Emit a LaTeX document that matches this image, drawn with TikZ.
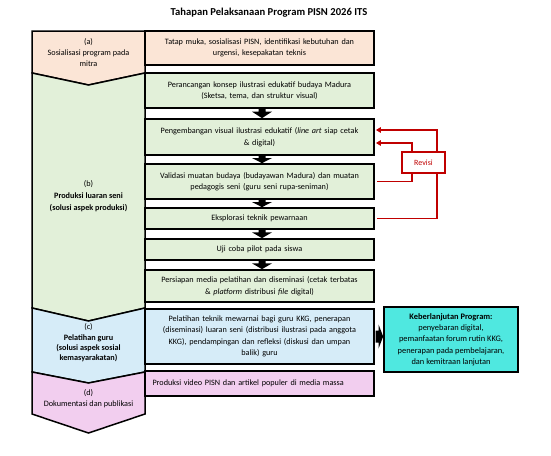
\documentclass[tikz,border=0pt]{standalone}
\usepackage{fontspec}
\setmainfont{Carlito}
\usetikzlibrary{arrows.meta,calc}
\definecolor{cpeach}{HTML}{FBE5D6}
\definecolor{cgreen}{HTML}{E2F0D9}
\definecolor{cblue}{HTML}{D6ECF8}
\definecolor{cpink}{HTML}{F2CEEF}
\definecolor{ccyan}{HTML}{4FE8E0}
\definecolor{cred}{HTML}{C00000}
\newcommand\blockdown[2]{%
  \fill[black] let \p1=($(#1.south)+(2.5,0)$), \p2=($(#2.north)+(2.5,0)$) in
    ({\x1-3.5pt},\y1) -- ({\x1+3.5pt},\y1) -- ({\x1+3.5pt},{\y1+0.3*(\y2-\y1)})
    -- ({\x1+10pt},{\y1+0.3*(\y2-\y1)}) -- (\x1,\y2)
    -- ({\x1-10pt},{\y1+0.3*(\y2-\y1)}) -- ({\x1-3.5pt},{\y1+0.3*(\y2-\y1)}) -- cycle;}
\begin{document}
\begin{tikzpicture}[x=1pt,y=-1pt,
  rbox/.style={draw=black, line width=1.7pt, minimum width=229pt, align=center,
    inner sep=0pt, text width=224pt, font=\fontsize{8.2}{11.5}\selectfont},
  lcol/.style={draw=black, line width=1.5pt, line join=miter},
  ltext/.style={align=center, inner sep=0pt, font=\fontsize{8.2}{10.8}\selectfont},
  redline/.style={draw=cred, line width=1.4pt},
  redarr/.style={-{Triangle[length=5pt,width=5.5pt]}}]
\useasboundingbox (0,0) rectangle (551,455);
\fill[white] (0,0) rectangle (551,455);

% title
\node[font=\bfseries\fontsize{10.6}{12}\selectfont] (title) at (269,13) {Tahapan Pelaksanaan Program PISN 2026 ITS};

% left column chevrons
\draw[lcol, fill=cpeach] (32,31) -- (145,31) -- (145,73) -- (88.5,85) -- (32,73) -- cycle;
\draw[lcol, fill=cgreen] (32,73) -- (88.5,85) -- (145,73) -- (145,308) -- (88.5,321) -- (32,308) -- cycle;
\draw[lcol, fill=cblue] (32,308) -- (88.5,321) -- (145,308) -- (145,372) -- (88.5,383) -- (32,372) -- cycle;
\draw[lcol, fill=cpink] (32,372) -- (88.5,383) -- (145,372) -- (145,414) -- (88.5,433) -- (32,414) -- cycle;

\node[ltext] (la) at (88.5,52.5) {(a)\\Sosialisasi program pada\\mitra};
\node[ltext, font=\fontsize{8.2}{12}\selectfont] (lb) at (88.5,196) {(b)\\\textbf{Produksi luaran seni}\\\textbf{(solusi aspek produksi)}};
\node[ltext, font=\fontsize{8.2}{10.3}\selectfont] (lc) at (88.5,343) {(c)\\\textbf{Pelatihan guru}\\\textbf{(solusi aspek sosial}\\\textbf{kemasyarakatan)}};
\node[ltext, font=\fontsize{8.2}{11.5}\selectfont] (ld) at (88.5,398.5) {(d)\\Dokumentasi dan publikasi};

% right boxes
\node[rbox, fill=cpeach, minimum height=34pt] (tatap) at (259.5,48) {Tatap muka, sosialisasi PISN, identifikasi kebutuhan dan\\urgensi, kesepakatan teknis};
\node[rbox, fill=cgreen, minimum height=35pt] (peran) at (259.5,90.5) {Perancangan konsep ilustrasi edukatif budaya Madura\\(Sketsa, tema, dan struktur visual)};
\node[rbox, fill=cgreen, minimum height=36pt] (pengem) at (259.5,137) {Pengembangan visual ilustrasi edukatif (\textit{line art} siap cetak\\\& digital)};
\node[rbox, fill=cgreen, minimum height=35pt] (valid) at (259.5,181.5) {Validasi muatan budaya (budayawan Madura) dan muatan\\pedagogis seni (guru seni rupa-seniman)};
\node[rbox, fill=cgreen, minimum height=21pt] (eksp) at (259.5,218.5) {Eksplorasi teknik pewarnaan};
\node[rbox, fill=cgreen, minimum height=21pt] (uji) at (259.5,249.5) {Uji coba pilot pada siswa};
\node[rbox, fill=cgreen, minimum height=32pt] (persiap) at (259.5,286) {Persiapan media pelatihan dan diseminasi (cetak terbatas\\\& \textit{platform} distribusi \textit{file} digital)};
\node[rbox, fill=cblue, minimum height=55pt] (pelat) at (259.5,336.5) {Pelatihan teknik mewarnai bagi guru KKG, penerapan\\(diseminasi) luaran seni (distribusi ilustrasi pada anggota\\KKG), pendampingan dan refleksi (diskusi dan umpan\\balik) guru};
\node[rbox, fill=cpink, minimum height=25pt, align=left, text width=214pt] (prod) at (259.5,383.5) {Produksi video PISN dan artikel populer di media massa};

% block arrows down
\blockdown{peran}{pengem}
\blockdown{pengem}{valid}
\blockdown{valid}{eksp}
\blockdown{eksp}{uji}
\blockdown{uji}{persiap}

% Keberlanjutan
\node[draw=black, line width=1.7pt, fill=ccyan, minimum width=134pt, minimum height=65pt,
  align=center, inner sep=0pt, font=\fontsize{8.4}{11.3}\selectfont] (keber) at (451,339.5)
  {\textbf{Keberlanjutan Program:}\\penyebaran digital,\\pemanfaatan forum rutin KKG,\\penerapan pada pembelajaran,\\dan kemitraan lanjutan};

\fill[black] let \p1=(pelat.east), \p2=(keber.west) in
  ({\x1+0.8pt},{\y1+6pt}) -- ({\x1+0.45*(\x2-\x1)},{\y1+6pt}) -- ({\x1+0.45*(\x2-\x1)},{\y1+12pt})
  -- (\x2,\y1) -- ({\x1+0.45*(\x2-\x1)},{\y1-12pt}) -- ({\x1+0.45*(\x2-\x1)},{\y1-6pt})
  -- ({\x1+0.8pt},{\y1-6pt}) -- cycle;

% revisi loops
\coordinate (pe1) at ([xshift=1pt]pengem.east);
\coordinate (rtop) at (437,130);
\coordinate (rin) at (412,143);
\draw[redline, redarr] ([xshift=2.5pt]eksp.east) -| (rtop) -- (pe1 |- rtop);
\draw[redline, redarr] ([xshift=2.5pt]valid.east) -| (rin) -- (pe1 |- rin);
\node[draw=cred, line width=1.3pt, fill=white, minimum width=43pt, minimum height=21pt,
  inner sep=0pt, text=cred, font=\fontsize{8}{9}\selectfont] (revisi) at (423.5,162.5) {Revisi};
\end{tikzpicture}
\end{document}
